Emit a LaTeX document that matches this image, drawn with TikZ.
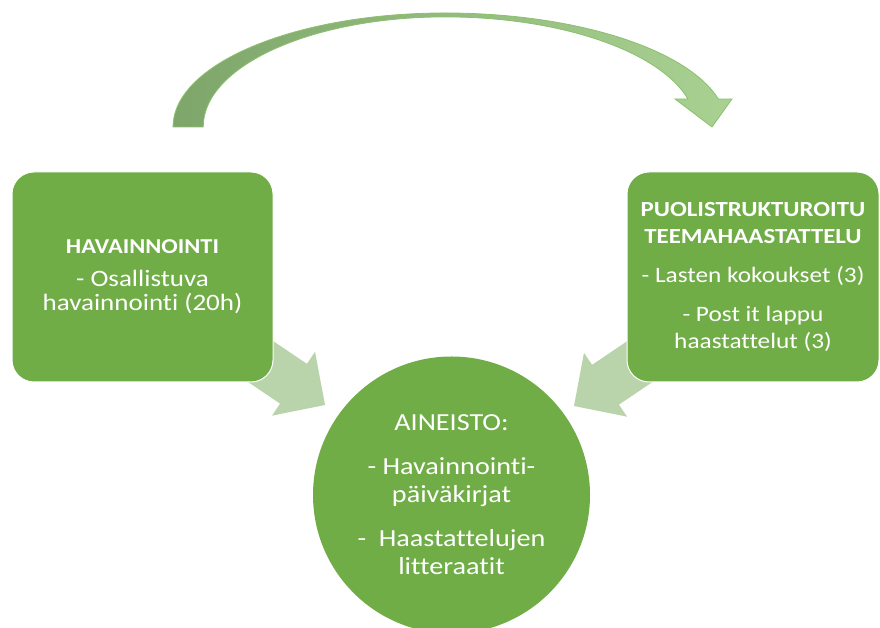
\documentclass[tikz,border=0pt]{standalone}
\usepackage{fontspec}
\setmainfont{Carlito}[FakeStretch=1.15,Ligatures=NoCommon]
\definecolor{boxgreen}{HTML}{70AD47}
\definecolor{palegreen}{HTML}{B9D3AA}
\definecolor{darkband}{HTML}{7EA66B}
\definecolor{lightband}{HTML}{A8D192}
\definecolor{bandline}{HTML}{8CC06E}
\begin{document}
\begin{tikzpicture}[x=1pt,y=1pt,
    boxnode/.style={rectangle,rounded corners=22pt,fill=boxgreen,draw=white,line width=1pt,
        text=white,align=center},
    hubnode/.style={circle,fill=boxgreen,inner sep=0pt,minimum size=277pt,
        text=white,align=center,font=\fontsize{24.5}{28}\selectfont},
    blockarrow/.style={fill=palegreen}]
    \useasboundingbox (0,0) rectangle (880,628);
    % where the two pale arrows point
    \coordinate (tipL) at (325,223);
    \coordinate (tipR) at (574,222);
    \foreach \tip/\ang in {tipL/-34,tipR/214}
        \fill[blockarrow,shift={(\tip)},rotate=\ang] (0,0)--(-38,38.5)--(-38,24)--(-110,24)
            --(-110,-24)--(-38,-24)--(-38,-38.5)--cycle;
    % curved arrow over the top
    \shade[left color=darkband,right color=lightband,draw=bandline,line width=.8pt]
        (173,501) arc[start angle=180,end angle=90,x radius=272,y radius=114]
        arc[start angle=90,end angle=14.2,x radius=282,y radius=114]
        --(732,529)--(712,501)--(675,529)--(688,529)
        arc[start angle=14.7,end angle=90,x radius=251,y radius=110]
        arc[start angle=90,end angle=180,x radius=242,y radius=110]--cycle;
    \node[boxnode,minimum width=261pt,minimum height=210pt,font=\fontsize{23.5}{24}\selectfont] (hav) at (142.5,351)
        {{\fontsize{21.2}{24}\selectfont\bfseries HAVAINNOINTI}\\[9pt] - Osallistuva\\ havainnointi (20h)};
    \node[boxnode,minimum width=252pt,minimum height=210pt,font=\fontsize{22}{27}\selectfont] (haas) at (753,351)
        {{\fontsize{21.6}{27}\selectfont\bfseries PUOLISTRUKTUROITU}\\ {\fontsize{21.6}{27}\selectfont\bfseries TEEMAHAASTATTELU}\\[12pt]
         - Lasten kokoukset (3)\\[12pt] - Post it lappu\\ haastattelut (3)};
    \node[hubnode] (aine) at (451.5,133)
        {AINEISTO:\\[16pt] - Havainnointi-\\ päiväkirjat\\[16pt] - \ Haastattelujen\\ litteraatit};
\end{tikzpicture}
\end{document}
